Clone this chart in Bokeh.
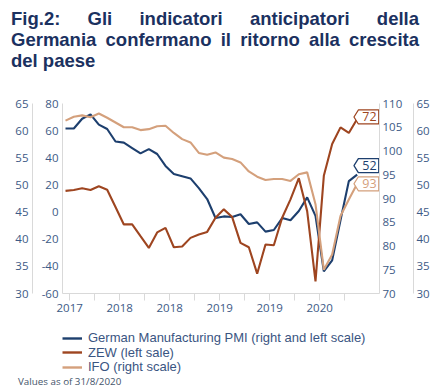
import pandas as pd
from bokeh.plotting import figure
from bokeh.models import (Range1d, LinearAxis, FixedTicker, Legend, LegendItem, Div)
from bokeh.layouts import column
from bokeh.embed import file_html
from bokeh.resources import INLINE
from bokeh.core.properties import value

# ---------------- data (monthly, Sep 2017 - Aug 2020) ----------------
months = [d.strftime("%Y-%m") for d in pd.date_range("2017-09-01", "2020-08-01", freq="MS")]

pmi = [60.4, 60.4, 62.2, 63.0, 61.1, 60.3, 58.0, 57.8, 56.8, 55.8, 56.6, 55.7,
       53.5, 52.0, 51.6, 51.2, 49.4, 47.4, 43.9, 44.2, 44.1, 44.6, 42.8, 43.1,
       41.4, 41.7, 43.9, 43.5, 45.2, 47.7, 44.3, 34.1, 36.1, 43.5, 50.7, 51.9]

zew = [15.6, 16.3, 17.5, 16.3, 19.0, 16.5, 3.7, -9.1, -9.1, -17.8, -26.4, -15.0,
       -11.6, -25.9, -25.4, -19.0, -16.5, -14.6, -4.2, 2.0, -3.7, -22.7, -25.9, -45.4,
       -23.9, -24.4, -4.2, 9.4, 25.0, 0.7, -51.1, 26.7, 50.1, 62.4, 58.3, 68.6]

ifo = [106.4, 107.2, 107.5, 107.1, 107.9, 107.0, 106.0, 105.0, 105.0, 104.4, 104.6, 105.2,
       105.3, 103.8, 102.5, 101.8, 99.6, 99.2, 99.7, 98.6, 98.3, 97.6, 95.7, 94.6,
       93.9, 94.1, 94.1, 93.7, 95.1, 95.5, 88.8, 75.0, 78.2, 86.3, 89.8, 93.1]

series_names = ["German Manufacturing PMI (right and left scale)",
                "ZEW (left sale)",
                "IFO (right scale)"]
end_labels = ["52", "72", "93"]
x_tick_labels = ["2017", "", "2018", "", "2018", "", "2019", "", "2019", "", "2020", ""]

pmi_ticks = [30, 35, 40, 45, 50, 55, 60, 65]
zew_ticks = [-60, -40, -20, 0, 20, 40, 60, 80]
ifo_ticks = [70, 75, 80, 85, 90, 95, 100, 105, 110]

title_lines = ["Fig.2: Gli indicatori anticipatori della",
               "Germania confermano il ritorno alla crescita",
               "del paese"]
footnote = "Values as of 31/8/2020"

# ---------------- style ----------------
NAVY = "#1D3F6E"
RUST = "#9E4520"
TAN = "#D4A07C"
AX_TXT = "#3D5A86"
AX_LINE = "#D9D9D9"
LEG_TXT = "#3A5582"
TITLE_COL = "#1B3160"
FONT = "Open Sans"
TIGHT_FONT = "Liberation Sans"   # compact line metrics for the tightly stacked texts

FIG_W, FIG_H = 429, 243
MB_L, MB_R, MB_T, MB_B = 54, 58, 25, 28
FW, FH = FIG_W - MB_L - MB_R, FIG_H - MB_T - MB_B

x = list(range(len(months)))
x_lo, x_hi = -0.36, 37.68
ranges = {"pmi": (30, 65), "zew": (-60, 80), "ifo": (70, 110)}

p = figure(width=FIG_W, height=FIG_H, output_backend="svg", toolbar_location=None,
           x_range=Range1d(x_lo, x_hi), y_range=Range1d(*ranges["pmi"]),
           y_axis_location=None,
           min_border_left=MB_L, min_border_right=MB_R,
           min_border_top=MB_T, min_border_bottom=MB_B,
           margin=(0, 0, 0, 8))
p.extra_y_ranges = {"zew": Range1d(*ranges["zew"]), "ifo": Range1d(*ranges["ifo"])}
p.outline_line_color = None
p.grid.visible = False
p.background_fill_color = "white"
p.border_fill_color = "white"


def style_y(ax, standoff):
    ax.axis_line_color = AX_LINE
    ax.axis_line_width = 1
    ax.major_tick_line_color = None
    ax.minor_tick_line_color = None
    ax.major_tick_out = 0
    ax.major_tick_in = 0
    ax.minor_tick_out = 0
    ax.minor_tick_in = 0
    ax.major_label_text_color = AX_TXT
    ax.major_label_text_font = FONT
    ax.major_label_text_font_size = "11.5px"
    ax.major_label_standoff = standoff


ax_zew = LinearAxis(y_range_name="zew", ticker=FixedTicker(ticks=zew_ticks),
                    axis_label=" ", axis_label_text_font_size="1px", axis_label_standoff=2,
                    major_label_overrides={t: str(t) for t in zew_ticks})
style_y(ax_zew, 4)
p.add_layout(ax_zew, "left")

ax_pmi_l = LinearAxis(ticker=FixedTicker(ticks=pmi_ticks))
style_y(ax_pmi_l, 4)
p.add_layout(ax_pmi_l, "left")

ax_ifo = LinearAxis(y_range_name="ifo", ticker=FixedTicker(ticks=ifo_ticks),
                    axis_label=" ", axis_label_text_font_size="1px", axis_label_standoff=4)
style_y(ax_ifo, 3)
p.add_layout(ax_ifo, "right")

ax_pmi_r = LinearAxis(ticker=FixedTicker(ticks=pmi_ticks))
style_y(ax_pmi_r, 3)
p.add_layout(ax_pmi_r, "right")

# x axis: a tick every quarter, between months, labelled every half year
tick_pos = [i + 0.5 for i in range(0, 3 * len(x_tick_labels), 3)]
xa = p.xaxis[0]
xa.ticker = FixedTicker(ticks=tick_pos)
xa.major_label_overrides = {t: lab for t, lab in zip(tick_pos, x_tick_labels)}
xa.axis_line_color = AX_LINE
xa.major_tick_line_color = AX_LINE
xa.major_tick_out = 7
xa.major_tick_in = 0
xa.minor_tick_line_color = None
xa.major_label_text_color = AX_TXT
xa.major_label_text_font = FONT
xa.major_label_text_font_size = "11.5px"
xa.major_label_standoff = 3

# ---------------- lines ----------------
r_pmi = p.line(x, pmi, line_color=NAVY, line_width=2.1)
r_zew = p.line(x, zew, line_color=RUST, line_width=2.1, y_range_name="zew")
r_ifo = p.line(x, ifo, line_color=TAN, line_width=2.1, y_range_name="ifo")

# ---------------- end-value callouts ----------------
ppx = FW / (x_hi - x_lo)
callouts = [
    (pmi, "pmi", "default", NAVY, end_labels[0], 9),
    (zew, "zew", "zew", RUST, end_labels[1], 2),
    (ifo, "ifo", "ifo", TAN, end_labels[2], 0),
]
for vals, key, rname, col, lab, nudge_up in callouts:
    lo, hi = ranges[key]
    ppy = FH / (hi - lo)
    xl = x[-1]
    cy = vals[-1] + nudge_up / ppy
    tip = xl - 3.2 / ppx
    sh = xl + 1.2 / ppx
    rt = xl + 21.6 / ppx
    hh = 7 / ppy
    p.patch([tip, sh, rt, rt, sh], [cy, cy + hh, cy + hh, cy - hh, cy - hh],
            fill_color="white", line_color=col, line_width=1.3, y_range_name=rname)
    p.text(x=[xl], y=[cy], text=[lab], x_offset=12.3, text_align="center",
           text_baseline="middle", text_color=col, text_font=value(FONT),
           text_font_size="12.5px", y_range_name=rname)

# ---------------- legend strip (proxy lines drawn outside its view) ----------------
leg = figure(width=FIG_W, height=57, output_backend="svg", toolbar_location=None,
             x_range=Range1d(-100, -99), y_range=Range1d(0, 1),
             x_axis_location=None, y_axis_location=None,
             min_border=0, margin=(0, 0, 0, 8))
leg.outline_line_color = None
leg.grid.visible = False
proxies = [leg.line(x, pmi, line_color=NAVY, line_width=2.4),
           leg.line(x, zew, line_color=RUST, line_width=2.4),
           leg.line(x, ifo, line_color=TAN, line_width=2.4)]

# one single-item legend per row, so rows sit as tightly as in the original
row_offsets = [32.7, 18.2, 3.7]
for name, rend, off in zip(series_names, proxies, row_offsets):
    leg.add_layout(Legend(items=[LegendItem(label=name, renderers=[rend])],
                          location=(0, off), orientation="vertical",
                          label_text_font=TIGHT_FONT, label_text_font_size="13px",
                          label_text_color=LEG_TXT, glyph_width=20, glyph_height=14,
                          label_height=14, spacing=0, padding=0, margin=0,
                          label_standoff=6, border_line_color=None,
                          background_fill_alpha=0))

# ---------------- footnote ----------------
foot = Div(text=(f'<div style="font-family:\'{FONT}\';font-size:9.8px;line-height:12px;'
                 f'color:#44546A;padding-left:18px;white-space:nowrap;">{footnote}</div>'),
           width=437, height=12, margin=(-5, 0, 0, 0))

# ---------------- title ----------------
line_css = "height:21px;line-height:21px;font-size:18.5px;white-space:nowrap;"
just_css = "text-align:justify;text-align-last:justify;"
title_html = (
    f'<div style="font-family:\'{TIGHT_FONT}\';font-weight:700;color:{TITLE_COL};'
    f'width:419px;padding:8px 0 0 11px;">'
    f'<div style="{line_css}{just_css}">{title_lines[0]}</div>'
    f'<div style="{line_css}{just_css}">{title_lines[1]}</div>'
    f'<div style="{line_css}">{title_lines[2]}</div></div>'
)
title = Div(text=title_html, width=437, height=78, margin=(0, 0, 0, 0))

layout = column(title, p, leg, foot, spacing=0)
open("out.html", "w").write(file_html(layout, INLINE))
